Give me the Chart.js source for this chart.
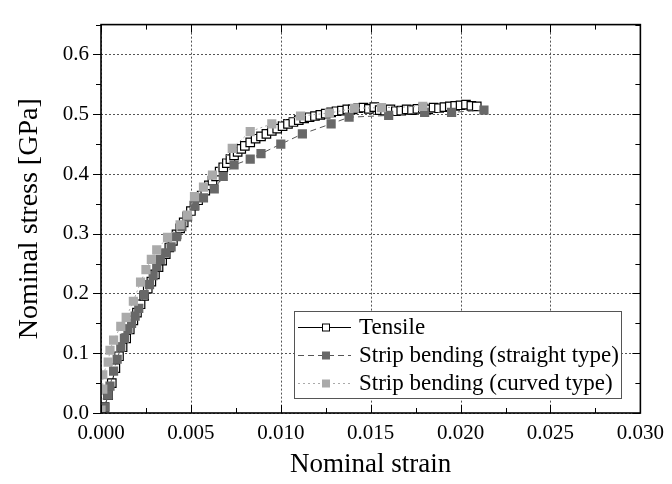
<!DOCTYPE html>
<html>
<head>
<meta charset="utf-8">
<script src="https://cdn.jsdelivr.net/npm/chart.js@4/dist/chart.umd.min.js"></script>
<style>
  body { margin: 0; background: #fff; }
  #wrap { width: 672px; height: 484px; }
</style>
</head>
<body>
<div id="wrap"><canvas id="stress-chart" width="672" height="484"></canvas></div>
<script>
// data ---------------------------
var tensileX = [0.0000,0.0002,0.0004,0.0006,0.0008,0.0010,0.0012,0.0014,0.0016,0.0018,0.0020,0.0022,0.0024,0.0026,0.0028,0.0030,0.0032,0.0034,0.0036,0.0038,0.0040,0.0042,0.0044,0.0046,0.0048,0.0050,0.0052,0.0054,0.0056,0.0058,0.0060,0.0062,0.0064,0.0066,0.0068,0.0070,0.0072,0.0074,0.0076,0.0078,0.0080,0.0083,0.0086,0.0089,0.0092,0.0095,0.0098,0.0101,0.0104,0.0107,0.0110,0.0113,0.0116,0.0119,0.0122,0.0125,0.0128,0.0131,0.0134,0.0137,0.0140,0.0143,0.0146,0.0149,0.0152,0.0155,0.0158,0.0161,0.0164,0.0167,0.0170,0.0173,0.0176,0.0179,0.0182,0.0185,0.0188,0.0191,0.0194,0.0197,0.0200,0.0203,0.0206,0.0209];
var tensileY = [0.000,0.010,0.030,0.050,0.075,0.095,0.110,0.125,0.140,0.155,0.168,0.182,0.196,0.208,0.220,0.232,0.244,0.255,0.266,0.277,0.288,0.299,0.309,0.319,0.329,0.338,0.347,0.356,0.364,0.372,0.381,0.389,0.396,0.404,0.411,0.418,0.425,0.431,0.437,0.442,0.447,0.453,0.459,0.463,0.467,0.472,0.476,0.480,0.484,0.487,0.490,0.493,0.495,0.497,0.499,0.501,0.503,0.505,0.506,0.508,0.508,0.510,0.511,0.509,0.512,0.507,0.506,0.508,0.505,0.506,0.508,0.507,0.509,0.510,0.508,0.511,0.510,0.512,0.513,0.514,0.515,0.516,0.514,0.513];

var straightX = [0.0000,0.0002,0.0004,0.0005,0.0007,0.0009,0.0011,0.0013,0.0015,0.0017,0.0019,0.0021,0.0024,0.0027,0.0029,0.0031,0.0033,0.0036,0.0039,0.0042,0.0045,0.0048,0.0052,0.0057,0.0063,0.0068,0.0074,0.0083,0.0089,0.0100,0.0112,0.0128,0.0138,0.0160,0.0180,0.0195,0.0213];
var straightY = [0.000,0.010,0.030,0.045,0.070,0.090,0.110,0.125,0.140,0.150,0.162,0.175,0.198,0.215,0.230,0.245,0.257,0.268,0.278,0.295,0.312,0.328,0.347,0.360,0.375,0.396,0.415,0.425,0.434,0.450,0.467,0.484,0.495,0.498,0.503,0.503,0.507];

var curvedX = [0.0000,0.0001,0.0001,0.0004,0.0005,0.0007,0.0011,0.0014,0.0018,0.0022,0.0025,0.0028,0.0031,0.0037,0.0044,0.0048,0.0052,0.0057,0.0062,0.0073,0.0083,0.0095,0.0111,0.0127,0.0141,0.0156,0.0179];
var curvedY = [0.005,0.040,0.064,0.085,0.105,0.122,0.145,0.160,0.187,0.219,0.240,0.257,0.273,0.294,0.315,0.331,0.362,0.378,0.398,0.443,0.471,0.484,0.497,0.502,0.510,0.511,0.513];

var seriesNames = ['Tensile', 'Strip bending (straight type)', 'Strip bending (curved type)'];
var xTicks = [0, 0.005, 0.010, 0.015, 0.020, 0.025, 0.030];
var yTicks = [0, 0.1, 0.2, 0.3, 0.4, 0.5, 0.6];

function pts(xs, ys) {
  return xs.map(function (x, i) { return { x: x, y: ys[i] }; });
}

var serif = "'Liberation Serif', 'Times New Roman', serif";

// frame, grid, ticks and legend drawn on the canvas ------
var framePlugin = {
  id: 'frame',
  beforeDatasetsDraw: function (chart) {
    var c = chart.ctx, a = chart.chartArea;
    var xs = chart.scales.x, ys = chart.scales.y;
    c.save();
    c.strokeStyle = '#555';
    c.lineWidth = 1;
    c.setLineDash([2, 2]);
    xTicks.forEach(function (v) {
      var px = Math.round(xs.getPixelForValue(v)) + 0.5;
      c.beginPath(); c.moveTo(px, a.top); c.lineTo(px, a.bottom); c.stroke();
    });
    yTicks.forEach(function (v) {
      var py = Math.round(ys.getPixelForValue(v)) + 0.5;
      c.beginPath(); c.moveTo(a.left, py); c.lineTo(a.right, py); c.stroke();
    });
    c.restore();
  },
  afterDatasetsDraw: function (chart) {
    var c = chart.ctx, a = chart.chartArea;
    var xs = chart.scales.x, ys = chart.scales.y;
    c.save();
    c.strokeStyle = '#000';
    c.lineWidth = 1;
    // x ticks, inward on bottom and top
    for (var i = 0; i <= 12; i++) {
      var v = i * 0.0025;
      var len = i % 2 === 0 ? 8 : 5;
      var px = Math.round(xs.getPixelForValue(v)) + 0.5;
      c.beginPath(); c.moveTo(px, a.bottom); c.lineTo(px, a.bottom - len); c.stroke();
      c.beginPath(); c.moveTo(px, a.top); c.lineTo(px, a.top + len); c.stroke();
    }
    // y ticks, outward on left, inward on right
    for (var j = 0; j <= 13; j++) {
      var w = j * 0.05;
      var ln = j % 2 === 0 ? 8 : 5;
      var py = Math.round(ys.getPixelForValue(w)) + 0.5;
      c.beginPath(); c.moveTo(a.left, py); c.lineTo(a.left - ln, py); c.stroke();
      c.beginPath(); c.moveTo(a.right, py); c.lineTo(a.right - ln, py); c.stroke();
    }
    c.lineWidth = 1.6;
    c.strokeRect(a.left, a.top, a.right - a.left, a.bottom - a.top);

    // legend box ------
    var bx = 294.5, by = 311.5, bw = 327, bh = 87;
    c.fillStyle = '#fff';
    c.fillRect(bx, by, bw, bh);
    c.lineWidth = 1;
    c.strokeStyle = '#555';
    c.strokeRect(bx, by, bw, bh);
    var rows = [327, 355, 383];
    chart.data.datasets.forEach(function (ds, k) {
      var y = rows[k];
      c.save();
      c.strokeStyle = ds.borderColor;
      c.lineWidth = 1;
      c.setLineDash(ds.borderDash || []);
      c.beginPath(); c.moveTo(298, y + 0.5); c.lineTo(351, y + 0.5); c.stroke();
      c.restore();
      var s = k === 0 ? 7 : 8;
      c.fillStyle = ds.pointBackgroundColor;
      c.fillRect(326 - s / 2, y - s / 2 + 0.5, s, s);
      if (k === 0) {
        c.strokeStyle = '#000';
        c.strokeRect(326 - s / 2, y - s / 2 + 0.5, s, s);
      }
      c.fillStyle = '#000';
      c.font = '23px ' + serif;
      c.textBaseline = 'middle';
      c.textAlign = 'left';
      c.fillText(seriesNames[k], 359, y + 1);
    });
    c.restore();
  }
};

new Chart(document.getElementById('stress-chart'), {
  type: 'scatter',
  data: {
    datasets: [{
      label: seriesNames[0],
      data: pts(tensileX, tensileY),
      showLine: true,
      borderColor: '#000',
      borderWidth: 1,
      pointStyle: 'rect',
      pointRadius: 6,
      pointBackgroundColor: '#fff',
      pointBorderColor: '#000',
      pointBorderWidth: 1.2,
      order: 3
    }, {
      label: seriesNames[1],
      data: pts(straightX, straightY),
      showLine: true,
      borderColor: '#555',
      borderWidth: 1,
      borderDash: [6, 4],
      pointStyle: 'rect',
      pointRadius: 6.5,
      pointBackgroundColor: '#686868',
      pointBorderColor: '#686868',
      pointBorderWidth: 0,
      order: 2
    }, {
      label: seriesNames[2],
      data: pts(curvedX, curvedY),
      showLine: true,
      borderColor: '#aaa',
      borderWidth: 1,
      borderDash: [2, 3],
      pointStyle: 'rect',
      pointRadius: 6.5,
      pointBackgroundColor: '#aaaaaa',
      pointBorderColor: '#aaaaaa',
      pointBorderWidth: 0,
      order: 1
    }]
  },
  options: {
    responsive: false,
    animation: false,
    layout: { padding: { top: 10, right: 26, left: 0, bottom: 0 } },
    plugins: {
      legend: { display: false },
      tooltip: { enabled: false }
    },
    scales: {
      x: {
        type: 'linear',
        min: 0,
        max: 0.03,
        afterBuildTicks: function (s) { s.ticks = xTicks.map(function (v) { return { value: v }; }); },
        afterFit: function (s) { s.height = 71; },
        grid: { display: false, drawTicks: false },
        border: { display: false },
        ticks: {
          color: '#000',
          padding: 8,
          maxRotation: 0,
          font: { family: serif, size: 21 },
          callback: function (v) { return Number(v).toFixed(3); }
        },
        title: {
          display: true,
          text: 'Nominal strain',
          color: '#000',
          font: { family: serif, size: 27 },
          padding: { top: 0, bottom: 3 }
        }
      },
      y: {
        type: 'linear',
        min: 0,
        max: 0.65,
        afterBuildTicks: function (s) { s.ticks = yTicks.map(function (v) { return { value: v }; }); },
        afterFit: function (s) { s.width = 101; },
        grid: { display: false, drawTicks: false },
        border: { display: false },
        ticks: {
          color: '#000',
          padding: 12,
          font: { family: serif, size: 21 },
          callback: function (v) { return Number(v).toFixed(1); }
        },
        title: {
          display: true,
          text: 'Nominal stress [GPa]',
          color: '#000',
          font: { family: serif, size: 28 },
          padding: { top: 13, bottom: 0 }
        }
      }
    }
  },
  plugins: [framePlugin]
});
</script>
</body>
</html>
